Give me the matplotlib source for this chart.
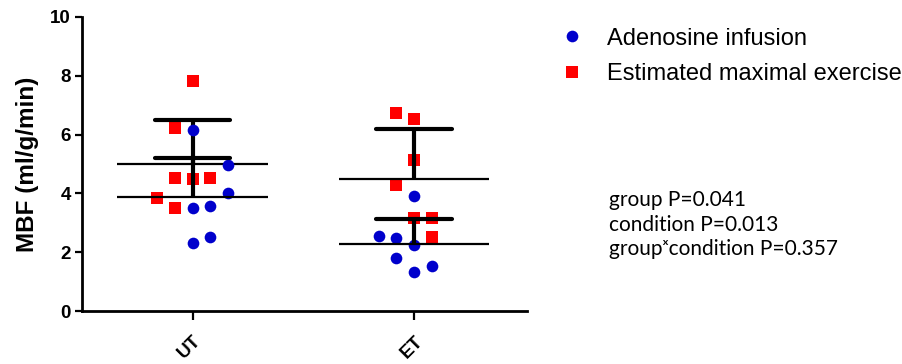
import numpy as np
import matplotlib
matplotlib.use("Agg")
import matplotlib.pyplot as plt
from matplotlib.lines import Line2D

plt.rcParams['font.family'] = ['Liberation Sans', 'DejaVu Sans']

# data
groups = ['UT', 'ET']
adenosine = [
    [6.16, 4.97, 4.01, 3.50, 3.57, 2.52, 2.31],   # UT
    [3.91, 2.56, 2.50, 2.24, 1.79, 1.53, 1.34],   # ET
]
exercise = [
    [7.82, 6.22, 4.52, 4.49, 4.52, 3.84, 3.50],   # UT
    [6.72, 6.53, 5.14, 4.29, 3.15, 3.15, 2.53],   # ET
]
# swarm slots (layout of the dots within a column)
adenosine_slot = [[0, 2, 2, 0, 1, 1, 0], [0, -2, -1, 0, -1, 1, 0]]
exercise_slot = [[0, -1, -1, 0, 1, -2, -1], [-1, 0, 0, -1, 0, 1, 1]]

stats_text = 'group P=0.041\ncondition P=0.013\ngroup\u02e3condition P=0.357'

BLUE = '#0000cc'
RED = '#ff0000'
step = 0.08

fig = plt.figure(figsize=(9.02, 3.64), dpi=100)
ax = fig.add_axes([0.0909, 0.1456, 0.4933, 0.8077])


def draw(values, slots, color, marker, ms):
    for i, (v, s) in enumerate(zip(values, slots)):
        v = np.array(v)
        x = i + np.array(s) * step
        ax.plot(x, v, linestyle='none', marker=marker, color=color, ms=ms,
                markeredgewidth=0, zorder=3)
        m = v.mean()
        sd = v.std(ddof=1)
        # mean line, then SD upwards
        ax.plot([i - 0.34, i + 0.34], [m, m], color='black', lw=1.6, zorder=3,
                solid_capstyle='butt')
        ax.plot([i, i], [m, m + sd], color='black', lw=3.0, zorder=3,
                solid_capstyle='butt')
        ax.plot([i - 0.17, i + 0.17], [m + sd, m + sd], color='black', lw=3.0,
                zorder=3, solid_capstyle='round')


draw(exercise, exercise_slot, RED, 's', 8.6)
draw(adenosine, adenosine_slot, BLUE, 'o', 8.4)

ax.set_xlim(-0.5, 1.51)
ax.set_ylim(0, 10)
ax.set_yticks([0, 2, 4, 6, 8, 10])
ax.set_xticks([0, 1])
ax.set_xticklabels(groups, rotation=45, ha='right', rotation_mode='anchor',
                   fontweight='bold', fontsize=13.5)
for lab in ax.get_yticklabels():
    lab.set_fontweight('bold')
    lab.set_fontsize(13.5)
ax.tick_params(axis='y', length=5, width=1.6, pad=3)
ax.tick_params(axis='x', length=6.5, width=1.6, pad=9)
for side in ['top', 'right']:
    ax.spines[side].set_visible(False)
for side in ['left', 'bottom']:
    ax.spines[side].set_linewidth(2)
ax.set_ylabel('MBF (ml/g/min)', fontweight='bold', fontsize=17.5, labelpad=8)

handles = [
    Line2D([], [], linestyle='none', marker='o', color=BLUE, ms=8.4, markeredgewidth=0),
    Line2D([], [], linestyle='none', marker='s', color=RED, ms=8.6, markeredgewidth=0),
]
fig.legend(handles, ['Adenosine infusion', 'Estimated maximal exercise'],
           loc='upper left', bbox_to_anchor=(0.611, 0.95), frameon=False,
           fontsize=17, handlelength=1.0, handletextpad=0.95, labelspacing=0.56,
           borderaxespad=0)

fig.text(0.675, 0.477, stats_text, family=['Lato', 'DejaVu Sans'], fontsize=15,
         va='top', ha='left', linespacing=1.27)

fig.savefig('out.png', dpi=100)
